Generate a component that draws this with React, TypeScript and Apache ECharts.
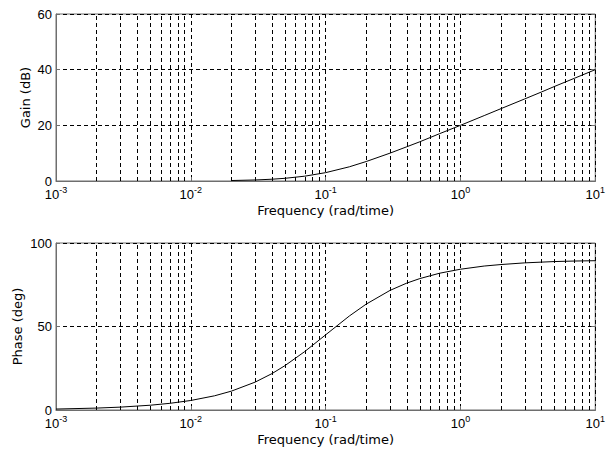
import React, { useEffect, useRef } from "react";
import * as echarts from "echarts";

const gainFreq = [0.02, 0.03, 0.04, 0.05, 0.07, 0.1, 0.15, 0.2, 0.3, 0.4, 0.5, 0.7, 1, 1.5, 2, 3, 4, 5, 7, 10];
const gainDb = [0.17, 0.37, 0.64, 0.97, 1.73, 3.0, 5.1, 7.0, 10.0, 12.3, 14.1, 17.0, 20.0, 23.5, 26.0, 29.5, 32.0, 34.0, 36.9, 40.0];

const phaseFreq = [0.001, 0.002, 0.003, 0.005, 0.007, 0.01, 0.015, 0.02, 0.03, 0.04, 0.05, 0.07, 0.1, 0.15, 0.2, 0.3, 0.4, 0.5, 0.7, 1, 1.5, 2, 3, 5, 7, 10];
const phaseDeg = [0.57, 1.15, 1.72, 2.86, 4.0, 5.7, 8.5, 11.3, 16.7, 21.8, 26.6, 35.0, 45.0, 56.3, 63.4, 71.6, 76.0, 78.7, 81.9, 84.3, 86.2, 87.1, 88.1, 88.9, 89.2, 89.4];

const minorGridFreqs = [
  0.002, 0.003, 0.004, 0.005, 0.006, 0.007, 0.008, 0.009,
  0.02, 0.03, 0.04, 0.05, 0.06, 0.07, 0.08, 0.09,
  0.2, 0.3, 0.4, 0.5, 0.6, 0.7, 0.8, 0.9,
  2, 3, 4, 5, 6, 7, 8, 9,
];

const xTitle = "Frequency (rad/time)";
const gainTitle = "Gain (dB)";
const phaseTitle = "Phase (deg)";

const FRAME = "#6e6e6e";
const DASH = [4, 3];

function xAxisFor(gridIndex: number) {
  return {
    type: "log",
    logBase: 10,
    gridIndex,
    min: 0.001,
    max: 10,
    name: xTitle,
    nameLocation: "middle",
    nameGap: 23,
    nameMoveOverlap: false,
    nameTextStyle: { fontFamily: "DejaVu Sans", fontSize: 13, color: "#000" },
    axisLine: { show: true, lineStyle: { color: FRAME, width: 1 } },
    axisTick: { show: true, inside: true, length: 4, lineStyle: { color: FRAME } },
    splitLine: { show: true, lineStyle: { color: "#000", type: DASH, width: 1 } },
    axisLabel: {
      margin: 4,
      formatter: (v: number) => `{b|10}{e|${Math.round(Math.log10(v))}}`,
      rich: {
        b: { fontFamily: "Liberation Sans", fontSize: 13, lineHeight: 16, verticalAlign: "bottom", color: "#000" },
        e: { fontFamily: "Liberation Sans", fontSize: 9, lineHeight: 10, verticalAlign: "top", color: "#000" },
      },
    },
  };
}

function yAxisFor(gridIndex: number, max: number, interval: number, name: string, nameGap: number) {
  return {
    type: "value",
    gridIndex,
    min: 0,
    max,
    interval,
    name,
    nameLocation: "middle",
    nameRotate: 90,
    nameGap,
    nameMoveOverlap: false,
    nameTextStyle: { fontFamily: "DejaVu Sans", fontSize: 13, color: "#000" },
    axisLine: { show: true, lineStyle: { color: FRAME, width: 1 } },
    axisTick: { show: true, inside: true, length: 4, lineStyle: { color: FRAME } },
    splitLine: { show: true, lineStyle: { color: "#000", type: DASH, width: 1 } },
    axisLabel: { margin: 4, fontFamily: "Liberation Sans", fontSize: 13, color: "#000" },
  };
}

function rightAxisFor(gridIndex: number, max: number, interval: number) {
  return {
    type: "value",
    gridIndex,
    position: "right",
    min: 0,
    max,
    interval,
    axisLine: { show: false },
    axisTick: { show: true, inside: true, length: 4, lineStyle: { color: FRAME } },
    splitLine: { show: false },
    axisLabel: { show: false },
  };
}

function minorMarkLine() {
  return {
    silent: true,
    symbol: "none",
    precision: 8,
    label: { show: false },
    lineStyle: { color: "#000", type: DASH, width: 1 },
    emphasis: { disabled: true },
    data: minorGridFreqs.map((f) => ({ xAxis: f })),
  };
}

export default function App() {
  const ref = useRef<HTMLDivElement>(null);
  useEffect(() => {
    if (!ref.current) return;
    const chart = echarts.init(ref.current, undefined, { renderer: "svg" });
    chart.setOption({
      animation: false,
      backgroundColor: "#fff",
      grid: [
        { left: 56, top: 14, width: 542, height: 167, show: true, borderColor: FRAME, borderWidth: 1, backgroundColor: "transparent" },
        { left: 56, top: 243, width: 542, height: 167, show: true, borderColor: FRAME, borderWidth: 1, backgroundColor: "transparent" },
      ],
      xAxis: [xAxisFor(0), xAxisFor(1)],
      yAxis: [
        yAxisFor(0, 60, 20, gainTitle, 24),
        yAxisFor(1, 100, 50, phaseTitle, 32),
        rightAxisFor(0, 60, 20),
        rightAxisFor(1, 100, 50),
      ],
      series: [
        {
          type: "line",
          xAxisIndex: 0,
          yAxisIndex: 0,
          data: gainFreq.map((f, i) => [f, gainDb[i]]),
          showSymbol: false,
          lineStyle: { color: "#000", width: 1 },
          itemStyle: { color: "#000" },
          markLine: minorMarkLine(),
        },
        {
          type: "line",
          xAxisIndex: 1,
          yAxisIndex: 1,
          data: phaseFreq.map((f, i) => [f, phaseDeg[i]]),
          showSymbol: false,
          lineStyle: { color: "#000", width: 1 },
          itemStyle: { color: "#000" },
          markLine: minorMarkLine(),
        },
      ],
    });
    return () => chart.dispose();
  }, []);
  return <div ref={ref} style={{ position: "fixed", left: 0, top: 0, width: 608, height: 458 }} />;
}
